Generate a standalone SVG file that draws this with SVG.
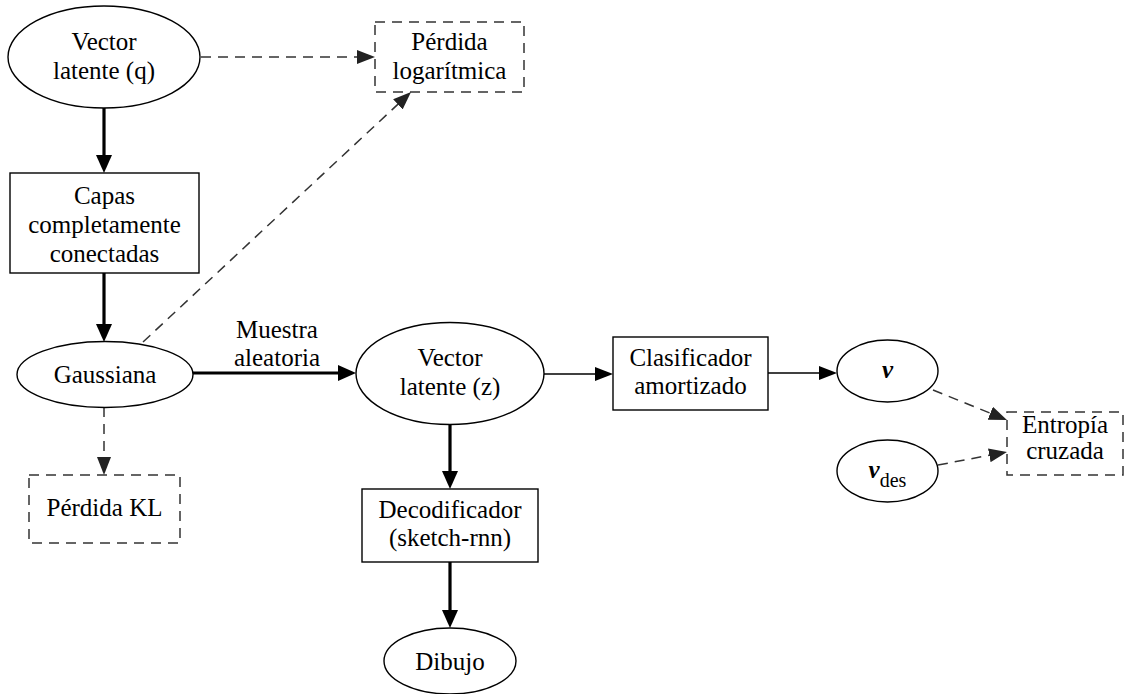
<svg xmlns="http://www.w3.org/2000/svg" width="1125" height="694" viewBox="0 0 1125 694">
  <style>
    .shape { fill: #ffffff; stroke: #000000; stroke-width: 1.4; }
    .dshape { fill: #ffffff; stroke: #333333; stroke-width: 1.5; stroke-dasharray: 10 7; }
    .lbl { font-family: 'Liberation Serif', Tinos, 'Times New Roman', 'DejaVu Serif', 'Noto Serif', serif; font-size: 25px; fill: #000000; text-anchor: middle; }
    .thick { fill: none; stroke: #000000; stroke-width: 3.2; }
    .thin { fill: none; stroke: #000000; stroke-width: 1.4; }
    .dash { fill: none; stroke: #333333; stroke-width: 1.5; stroke-dasharray: 10 7; }
  </style>
  <defs>
    <marker id="headThick" markerUnits="userSpaceOnUse" markerWidth="18" markerHeight="16" viewBox="0 0 18 16" refX="1" refY="8" orient="auto">
      <path d="M0,0 L18,8 L0,16 Z" fill="#000000"/>
    </marker>
    <marker id="headThin" markerUnits="userSpaceOnUse" markerWidth="18" markerHeight="14" viewBox="0 0 18 14" refX="1" refY="7" orient="auto">
      <path d="M0,0 L18,7 L0,14 Z" fill="#000000"/>
    </marker>
    <marker id="headDash" markerUnits="userSpaceOnUse" markerWidth="18" markerHeight="14" viewBox="0 0 18 14" refX="1" refY="7" orient="auto">
      <path d="M0,0 L18,7 L0,14 Z" fill="#222222"/>
    </marker>
  </defs>

  <!-- connectors -->
  <g id="edges">
    <path class="dash" d="M201,57 L358,57" marker-end="url(#headDash)"/>
    <path class="thick" d="M104,108 L104,156" marker-end="url(#headThick)"/>
    <path class="thick" d="M104,273 L104,325" marker-end="url(#headThick)"/>
    <path class="dash" d="M143,342 L398.6,103.6" marker-end="url(#headDash)"/>
    <path class="thick" d="M193,373 L339,373" marker-end="url(#headThick)"/>
    <path class="dash" d="M104,407 L104,458" marker-end="url(#headDash)"/>
    <path class="thick" d="M450,424 L450,472" marker-end="url(#headThick)"/>
    <path class="thin" d="M544,374 L596,374" marker-end="url(#headThin)"/>
    <path class="thick" d="M450,562 L450,611" marker-end="url(#headThick)"/>
    <path class="thin" d="M768,373 L820,373" marker-end="url(#headThin)"/>
    <path class="dash" d="M933,390 L991.2,413.6" marker-end="url(#headDash)"/>
    <path class="dash" d="M938,465 L990.3,455.1" marker-end="url(#headDash)"/>
    <text class="lbl" x="277" y="338">Muestra</text>
    <text class="lbl" x="277" y="366">aleatoria</text>
  </g>

  <g id="vector-q">
    <ellipse class="shape" cx="104" cy="57" rx="96" ry="51"/>
    <text class="lbl" x="104" y="50">Vector</text>
    <text class="lbl" x="104" y="79">latente (q)</text>
  </g>

  <g id="perdida-log">
    <rect class="dshape" x="375" y="22" width="149" height="70"/>
    <text class="lbl" x="449.5" y="50">Pérdida</text>
    <text class="lbl" x="449.5" y="79">logarítmica</text>
  </g>

  <g id="capas">
    <rect class="shape" x="10" y="173" width="189" height="100"/>
    <text class="lbl" x="104.5" y="204">Capas</text>
    <text class="lbl" x="104.5" y="233">completamente</text>
    <text class="lbl" x="104.5" y="262">conectadas</text>
  </g>

  <g id="gaussiana">
    <ellipse class="shape" cx="105" cy="374.5" rx="88" ry="33"/>
    <text class="lbl" x="105" y="383">Gaussiana</text>
  </g>

  <g id="perdida-kl">
    <rect class="dshape" x="29" y="475" width="151" height="68"/>
    <text class="lbl" x="104.5" y="516">Pérdida KL</text>
  </g>

  <g id="vector-z">
    <ellipse class="shape" cx="450" cy="373.5" rx="94" ry="51"/>
    <text class="lbl" x="450" y="366">Vector</text>
    <text class="lbl" x="450" y="395">latente (z)</text>
  </g>

  <g id="decodificador">
    <rect class="shape" x="362" y="489" width="176" height="73"/>
    <text class="lbl" x="450" y="518">Decodificador</text>
    <text class="lbl" x="450" y="546">(sketch-rnn)</text>
  </g>

  <g id="dibujo">
    <ellipse class="shape" cx="450" cy="661" rx="66" ry="33"/>
    <text class="lbl" x="450" y="670">Dibujo</text>
  </g>

  <g id="clasificador">
    <rect class="shape" x="613" y="337" width="155" height="73"/>
    <text class="lbl" x="690.5" y="366">Clasificador</text>
    <text class="lbl" x="690.5" y="394">amortizado</text>
  </g>

  <g id="v">
    <ellipse class="shape" cx="887.5" cy="371" rx="50.5" ry="31"/>
    <text class="lbl" x="887.5" y="378" font-weight="bold" font-style="italic">v</text>
  </g>

  <g id="v-des">
    <ellipse class="shape" cx="887.5" cy="471" rx="50.5" ry="31"/>
    <text class="lbl" x="887.5" y="478"><tspan font-weight="bold" font-style="italic">v</tspan><tspan font-size="20" dy="9">des</tspan></text>
  </g>

  <g id="entropia">
    <rect class="dshape" x="1007" y="412" width="116" height="63"/>
    <text class="lbl" x="1065" y="433">Entropía</text>
    <text class="lbl" x="1065" y="459">cruzada</text>
  </g>
</svg>
